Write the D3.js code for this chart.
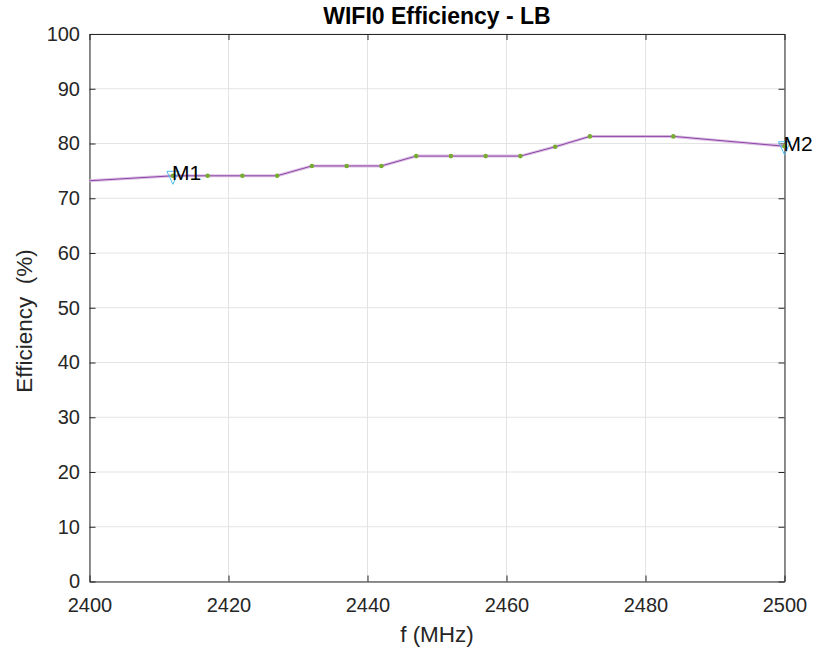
<!DOCTYPE html>
<html>
  <head>
    <script src="https://d3js.org/d3.v7.min.js"></script>
    <style>
      body { margin: 0; background: #fff; }
      svg { display: block; font-family: "Liberation Sans", Arial, sans-serif; }
    </style>
  </head>
  <body>
    <svg width="816" height="653"></svg>
    <script>
      const freqs = [2400, 2412, 2417, 2422, 2427, 2432, 2437, 2442, 2447, 2452, 2457, 2462, 2467, 2472, 2484, 2500];
      const effs  = [73.2, 74.1, 74.1, 74.1, 74.1, 75.9, 75.9, 75.9, 77.7, 77.7, 77.7, 77.7, 79.4, 81.3, 81.3, 79.5];
      const markerNames = ["M1", "M2"];
      const markerFreqs = [2412, 2500];
      const markerEffs  = [74.1, 79.5];
      const xTicks = [2400, 2420, 2440, 2460, 2480, 2500];
      const yTicks = [0, 10, 20, 30, 40, 50, 60, 70, 80, 90, 100];

      const svg = d3.select("svg");
      const pL = 89.5, pR = 784.5, pT = 34, pB = 581.5;

      const x = d3.scaleLinear().domain([2400, 2500]).range([pL, pR]);
      const y = d3.scaleLinear().domain([0, 100]).range([pB, pT]);

      // grid
      svg.append("g").selectAll("line").data(xTicks).enter().append("line")
        .attr("x1", d => x(d)).attr("x2", d => x(d))
        .attr("y1", pT).attr("y2", pB)
        .attr("stroke", "#e3e3e3").attr("stroke-width", 1);
      svg.append("g").selectAll("line").data(yTicks).enter().append("line")
        .attr("x1", pL).attr("x2", pR)
        .attr("y1", d => y(d)).attr("y2", d => y(d))
        .attr("stroke", "#e3e3e3").attr("stroke-width", 1);

      // axes
      const tickFont = g => g.selectAll("text")
        .attr("font-size", 20).attr("fill", "#262626")
        .attr("font-family", "Liberation Sans, Arial, sans-serif");

      svg.append("g").attr("transform", `translate(0,${pB})`)
        .call(d3.axisBottom(x).tickValues(xTicks).tickFormat(d3.format("d")).tickSizeInner(-6).tickSizeOuter(0).tickPadding(16))
        .call(g => g.select(".domain").attr("stroke", "#262626"))
        .call(g => g.selectAll(".tick line").attr("stroke", "#262626"))
        .call(tickFont);
      svg.append("g").attr("transform", `translate(${pL},0)`)
        .call(d3.axisLeft(y).tickValues(yTicks).tickSizeInner(-6).tickSizeOuter(0).tickPadding(9.5))
        .call(g => g.select(".domain").attr("stroke", "#262626"))
        .call(g => g.selectAll(".tick line").attr("stroke", "#262626"))
        .call(tickFont);
      svg.append("g").attr("transform", `translate(0,${pT})`)
        .call(d3.axisTop(x).tickValues(xTicks).tickFormat("").tickSizeInner(-6).tickSizeOuter(0))
        .call(g => g.selectAll("path, line").attr("stroke", "#262626"));
      svg.append("g").attr("transform", `translate(${pR},0)`)
        .call(d3.axisRight(y).tickValues(yTicks).tickFormat("").tickSizeInner(-6).tickSizeOuter(0))
        .call(g => g.selectAll("path, line").attr("stroke", "#262626"));

      // series
      const pts = freqs.map((f, i) => [f, effs[i]]);
      const line = d3.line().x(d => x(d[0])).y(d => y(d[1]));
      svg.append("path").datum(pts).attr("d", line)
        .attr("fill", "none").attr("stroke", "#dcc2e4").attr("stroke-width", 3);
      svg.append("path").datum(pts).attr("d", line)
        .attr("fill", "none").attr("stroke", "#8e44a8").attr("stroke-width", 1);
      svg.append("g").selectAll("circle").data(pts.slice(1)).enter().append("circle")
        .attr("cx", d => x(d[0])).attr("cy", d => y(d[1])).attr("r", 2.3)
        .attr("fill", "#77ac30");

      // markers
      const mk = markerNames.map((n, i) => ({ n, f: markerFreqs[i], e: markerEffs[i] }));
      svg.append("g").selectAll("path").data(mk).enter().append("path")
        .attr("d", d => {
          const cx = x(d.f), cy = y(d.e);
          return `M${cx - 6},${cy - 4.5}L${cx + 6},${cy - 4.5}L${cx},${cy + 8.5}Z`;
        })
        .attr("fill", "none").attr("stroke", "#4dbeee").attr("stroke-width", 1);
      svg.append("g").selectAll("text").data(mk).enter().append("text")
        .attr("x", d => x(d.f) - 1).attr("y", d => y(d.e) + 4.5)
        .attr("font-size", 21).attr("fill", "#000")
        .text(d => d.n);

      // labels
      svg.append("text").attr("x", (pL + pR) / 2).attr("y", 24)
        .attr("text-anchor", "middle").attr("font-size", 23).attr("font-weight", "bold")
        .text("WIFI0 Efficiency - LB");
      svg.append("text").attr("x", (pL + pR) / 2).attr("y", 642)
        .attr("text-anchor", "middle").attr("font-size", 22.5).attr("fill", "#262626")
        .text("f (MHz)");
      svg.append("text")
        .attr("transform", `translate(32,321) rotate(-90)`)
        .attr("text-anchor", "middle").attr("font-size", 22.5).attr("fill", "#262626")
        .attr("xml:space", "preserve").style("white-space", "pre")
        .text("Efficiency  (%)");
    </script>
  </body>
</html>
